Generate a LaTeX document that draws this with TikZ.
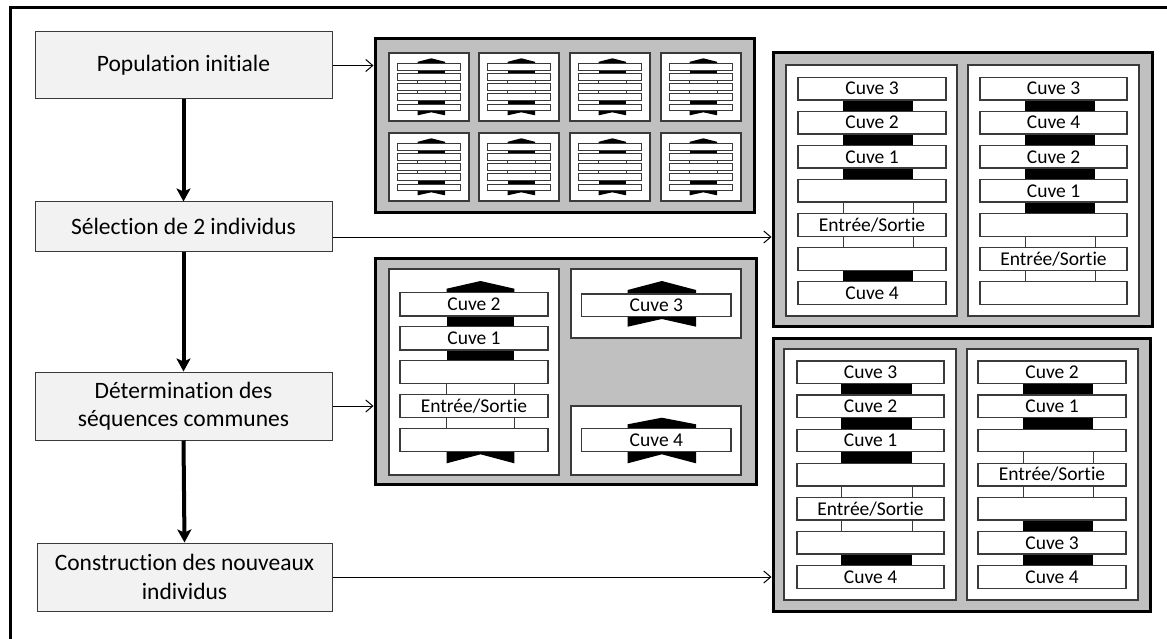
\documentclass[tikz,border=0pt]{standalone}
\usepackage{fontspec}
\setmainfont{Carlito}[Ligatures={NoCommon,NoContextual}]
\usetikzlibrary{arrows.meta}
\definecolor{panelgray}{HTML}{C0C0C0}
\definecolor{nodefill}{HTML}{F2F2F2}
\definecolor{edgec}{HTML}{3A3A3A}
\newcommand\ES{Entrée/Sortie}
% stack of slabs: #1 prefix, #2 slab x1, #3 slab x2, #4 block x1, #5 block x2, #6 first top, #7 list label/conn
\newcommand\stackcol[7]{%
  \foreach \lab/\con [count=\i from 0] in {#7} {
    \pgfmathsetmacro\yt{#6+\i*\spitch}
    \pgfmathsetmacro\yb{\yt+\sheight}
    \pgfmathsetmacro\yn{#6+(\i+1)*\spitch}
    \if\con B \fill[black] (#4,\yb) rectangle (#5,\yn);\fi
    \if\con L \draw[conline] (#4,\yb) -- (#4,\yn) (#5,\yb) -- (#5,\yn);\fi
  }
  \foreach \lab/\con [count=\i from 0] in {#7} {
    \pgfmathsetmacro\yc{#6+\i*\spitch+\sheight/2}
    \node[slab, minimum width={#3-#2}, minimum height=\sheight] (#1\i) at ({(#2+#3)/2},\yc) {\lab};
  }
}
\newcommand\tri[4]{\fill (#1,#3) -- (#1,{#3-4}) -- ({(#1+#2)/2},#4) -- (#2,{#3-4}) -- (#2,#3) -- cycle;}
\newcommand\chev[5]{\fill (#1,#3) -- (#1,#4) -- ({(#1+#2)/2},#5) -- (#2,#4) -- (#2,#3) -- cycle;}
\newcommand\mini[2]{%
  \begin{scope}[shift={(#1,#2)}]
    \draw[wbox] (0,0) rectangle (80,68);
    \fill (28.7,10.3) -- (28.7,8.8) -- (42.3,5.3) -- (56,8.8) -- (56,10.3) -- cycle;
    \fill (28.7,16.5) rectangle (56,21);
    \draw[minil] (28.7,27.3) -- (28.7,30.7) (56,27.3) -- (56,30.7) (28.7,37.5) -- (28.7,40.9) (56,37.5) -- (56,40.9);
    \fill (28.7,47.2) rectangle (56,51.6);
    \fill (28.7,57.9) -- (28.7,62.3) -- (42.3,59.3) -- (56,62.3) -- (56,57.9) -- cycle;
    \foreach \t in {10.3,20.5,30.7,40.9,51.1} \draw[minislab] (8.7,\t) rectangle (71.3,{\t+6.8});
  \end{scope}}
\begin{document}
\begin{tikzpicture}[x=1pt,y=-1pt,
  stepbox/.style={draw=edgec, line width=1pt, fill=nodefill, inner sep=0pt, align=center,
    font=\fontsize{23.5}{28.2}\selectfont, minimum width=297},
  panel/.style={draw=black, line width=3pt, fill=panelgray, inner sep=0pt},
  wbox/.style={draw=edgec, line width=1.3pt, fill=white},
  slab/.style={draw=edgec, line width=1.3pt, fill=white, inner sep=0pt,
    font=\fontsize{19.5}{22}\selectfont, text height=12.6pt, text depth=0pt},
  conline/.style={draw=edgec, line width=1pt},
  minil/.style={draw=edgec, line width=0.8pt},
  minislab/.style={draw=edgec, line width=1.1pt, fill=white},
  flow/.style={line width=4pt, -{Stealth[length=13pt,width=14pt,inset=3pt]}},
  link/.style={line width=1pt, -{Straight Barb[length=7pt,width=12pt]}}]
\useasboundingbox (0,0) rectangle (1167,639);
\fill[white] (0,0) rectangle (1167,639);
% outer frame (only top and left visible)
\draw[line width=2.5pt] (10.3,640) -- (10.3,7.3) -- (1168,7.3);

% left flow nodes
\node[stepbox, minimum height=67] (pop) at (183.5,65.5) {Population initiale};
\node[stepbox, minimum height=49] (sel) at (183.5,226.5) {Sélection de 2 individus};
\node[stepbox, minimum height=68] (det) at (183.5,406) {Détermination des\\séquences communes};
\node[stepbox, minimum height=68, minimum width=295] (cons) at (184.5,577) {Construction des nouveaux\\individus};

% panels
\node[panel, minimum width=379, minimum height=174] (p1) at (564.5,126) {};
\node[panel, minimum width=379, minimum height=273] (p2) at (962.5,189.5) {};
\node[panel, minimum width=381, minimum height=226] (p3) at (565.5,371) {};
\node[panel, minimum width=377, minimum height=273] (p4) at (961.5,474.5) {};

% flow arrows
\draw[flow] (pop.south) -- (sel.north);
\draw[flow] (sel.south) -- (det.north);
\draw[flow] (det.south) -- (cons.north);
\draw[link] (pop.east) -- (pop.east -| p1.west);
\draw[link] ([yshift=-10.5pt]sel.east) -- ([yshift=-10.5pt]sel.east -| p2.west);
\draw[link] (det.east) -- (det.east -| p3.west);
\draw[link] (cons.east) -- (cons.east -| p4.west);

% panel 1: initial population
\foreach \bx in {389,479,570,661} {
  \foreach \by in {53,133} { \mini{\bx}{\by} }
}

% panel 2: two selected individuals
\draw[wbox] (786,65) rectangle (957,316);
\draw[wbox] (968,65) rectangle (1139,316);
\def\spitch{34.07}\def\sheight{22.6}
\stackcol{a}{798}{946}{843}{913}{77.3}{Cuve 3/B,Cuve 2/B,Cuve 1/B,{}/L,\ES/L,{}/B,Cuve 4/N}
\stackcol{b}{980}{1127}{1025}{1095}{77.3}{Cuve 3/B,Cuve 4/B,Cuve 2/B,Cuve 1/B,{}/L,\ES/L,{}/N}

% panel 4: new individuals
\draw[wbox] (784,349) rectangle (956,600);
\draw[wbox] (967,349) rectangle (1138,600);
\def\spitch{34.1}
\stackcol{c}{797}{944}{841}{912}{361}{Cuve 3/B,Cuve 2/B,Cuve 1/B,{}/L,\ES/L,{}/B,Cuve 4/N}
\stackcol{d}{978}{1126}{1023}{1093}{361}{Cuve 2/B,Cuve 1/B,{}/L,\ES/L,{}/B,Cuve 3/B,Cuve 4/N}

% panel 3: common sequences
\draw[wbox] (389,269) rectangle (559,475);
\draw[wbox] (571,269) rectangle (741,338);
\draw[wbox] (571,406) rectangle (741,475);
\def\spitch{33.9}\def\sheight{23.3}
\tri{446.7}{514.3}{292.7}{281}
\chev{446.7}{514.3}{451.6}{463.3}{454.3}
\stackcol{e}{400}{548}{446.7}{514.3}{292.7}{Cuve 2/B,Cuve 1/B,{}/L,\ES/L,{}/N}
\tri{627.7}{696}{294}{281}
\chev{627.7}{696}{316.5}{326.7}{319}
\def\sheight{22.5}
\stackcol{f}{581.7}{731}{627.7}{696}{294}{Cuve 3/N}
\def\sheight{23.3}
\tri{627.7}{696}{428.3}{417.7}
\chev{627.7}{696}{451.6}{463.3}{454.3}
\stackcol{g}{581.7}{731}{627.7}{696}{428.3}{Cuve 4/N}
\end{tikzpicture}
\end{document}
